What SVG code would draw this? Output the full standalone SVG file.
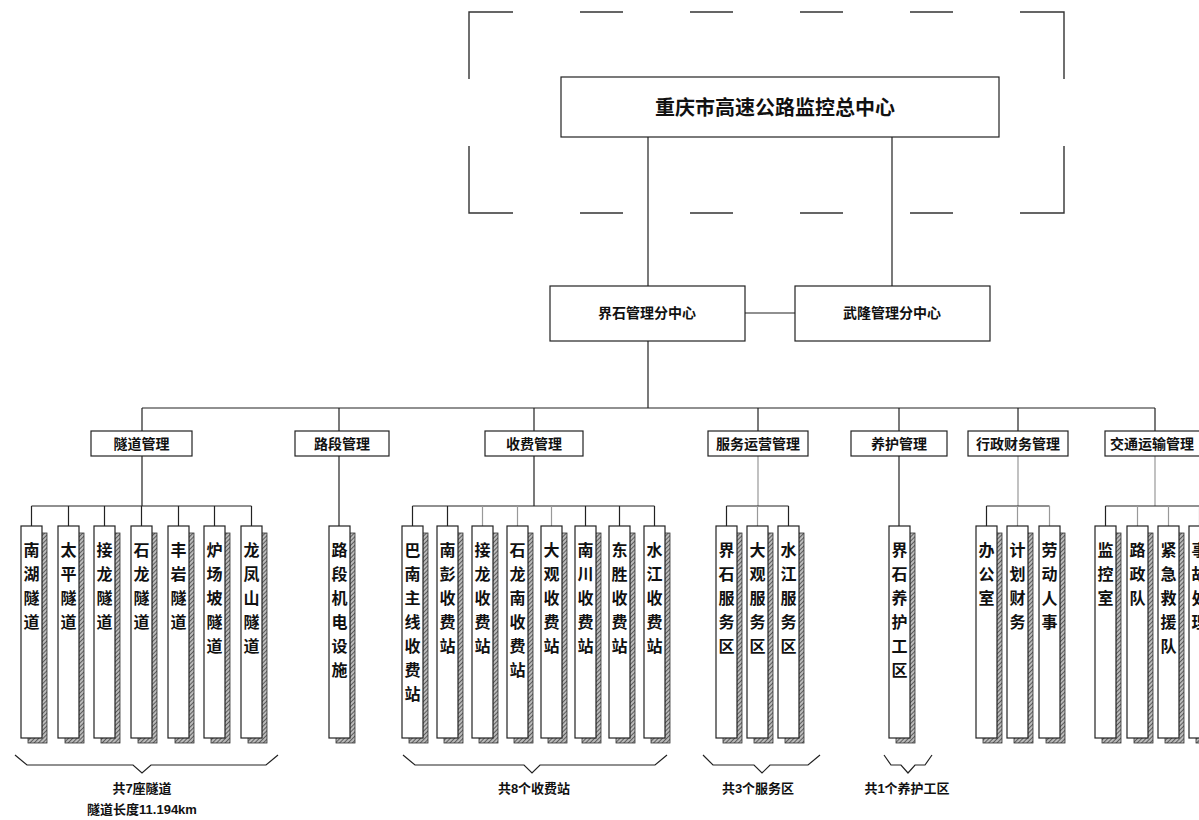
<svg xmlns="http://www.w3.org/2000/svg" width="1199" height="820" viewBox="0 0 1199 820">
<style>
  .box { fill: #fff; stroke: #222; stroke-width: 1.2; }
  .shadow { fill: url(#hatch); stroke: #333; stroke-width: 0.8; }
  .ln { stroke: #222; stroke-width: 1.2; fill: none; }
  .lg { stroke: #999; stroke-width: 1.2; fill: none; }
  .dash { stroke: #333; stroke-width: 1.4; fill: none; }
  .t { font-family: "Liberation Sans", "Noto Sans CJK SC", sans-serif; font-weight: bold; fill: #111; text-anchor: middle; }
  .title { font-size: 20px; }
  .mid { font-size: 14px; }
  .cat { font-size: 14px; }
  .v { font-size: 16px; }
  .note { font-size: 13px; }
</style>
<defs>
  <pattern id="hatch" patternUnits="userSpaceOnUse" width="3" height="3" patternTransform="rotate(45)">
    <rect width="3" height="3" fill="#bbb"/>
    <line x1="0" y1="0" x2="0" y2="3" stroke="#333" stroke-width="1.4"/>
  </pattern>
</defs>
<rect width="1199" height="820" fill="#fff"/>

<g id="dashed-frame">
  <path class="dash" d="M469,79 V12 H513 M580,12 H623 M690,12 H733 M800,12 H843 M910,12 H953 M1020,12 H1064 V79"/>
  <path class="dash" d="M469,146 V213 H513 M580,213 H623 M690,213 H733 M800,213 H843 M910,213 H953 M1020,213 H1064 V146"/>
</g>

<g id="connectors">
  <path class="ln" d="M648,137 V286 M892,137 V286 M745,313 H795 M648,341 V408 M142,408 H1155"/>
  <path class="ln" d="M142,408 V431 M339,408 V431 M534,408 V431 M758,408 V431 M899,408 V431 M1018,408 V431 M1155,408 V431"/>
  <path class="ln" d="M142,456 V506 M534,456 V506 M339,456 V526 M899,456 V526"/>
  <path class="lg" d="M758,456 V506 M1018,456 V506 M1155,456 V506"/>
  <path class="ln" d="M31.5,506 H251.5 M31.5,506 V526 M68.5,506 V526 M104.5,506 V526 M141.5,506 V526 M178.5,506 V526 M214.5,506 V526 M251.5,506 V526"/>
  <path class="ln" d="M412.5,506 H654.5 M412.5,506 V526 M447.5,506 V526 M585.5,506 V526 M619.5,506 V526 M654.5,506 V526"/>
  <path class="lg" d="M482.5,506 V526 M517.5,506 V526 M551.5,506 V526"/>
  <path class="ln" d="M726.5,506 H788.5 M726.5,506 V526 M788.5,506 V526"/>
  <path class="lg" d="M757.5,506 V526"/>
  <path class="ln" d="M986.5,506 H1049.5 M986.5,506 V526"/>
  <path class="lg" d="M1049.5,506 V526 M1017.5,506 V526"/>
  <path class="ln" d="M1105.5,506 H1199 M1105.5,506 V526"/>
  <path class="lg" d="M1137.5,506 V526 M1168.5,506 V526 M1199.5,506 V526"/>
</g>

<g id="brackets">
  <polyline class="ln" points="15,755 27,765 133,765 142,773 151,765 266,765 278,755"/>
  <polyline class="ln" points="403,755 415,765 524,765 532,773 540,765 655,765 667,755"/>
  <polyline class="ln" points="703,755 713,765 754,765 762,773 770,765 808,765 820,755"/>
  <polyline class="ln" points="884,755 891,765 901,765 908,773 915,765 925,765 932,755"/>
</g>

<g id="n-hq">
  <rect class="box" x="561" y="77" width="438" height="60"/>
  <text class="t title" x="775" y="115">重庆市高速公路监控总中心</text>
</g>
<g id="n-jieshi">
  <rect class="box" x="550" y="286" width="195" height="55"/>
  <text class="t mid" x="647" y="318">界石管理分中心</text>
</g>
<g id="n-wulong">
  <rect class="box" x="795" y="286" width="195" height="55"/>
  <text class="t mid" x="892" y="318">武隆管理分中心</text>
</g>

<g id="c-tunnel"><rect class="box" x="91" y="431" width="101" height="25"/><text class="t cat" x="141.5" y="449">隧道管理</text></g>
<g id="c-road"><rect class="box" x="295" y="431" width="94" height="25"/><text class="t cat" x="342" y="449">路段管理</text></g>
<g id="c-toll"><rect class="box" x="485" y="431" width="98" height="25"/><text class="t cat" x="534" y="449">收费管理</text></g>
<g id="c-service"><rect class="box" x="708" y="431" width="100" height="25"/><text class="t cat" x="758" y="449">服务运营管理</text></g>
<g id="c-maint"><rect class="box" x="851" y="431" width="96" height="25"/><text class="t cat" x="899" y="449">养护管理</text></g>
<g id="c-admin"><rect class="box" x="968" y="431" width="100" height="25"/><text class="t cat" x="1018" y="449">行政财务管理</text></g>
<g id="c-traffic"><rect class="box" x="1105" y="431" width="110" height="25"/><text class="t cat" x="1152" y="449">交通运输管理</text></g>

<!-- vertical unit boxes -->
<g id="u-nanhu"><rect class="shadow" x="28" y="533" width="19" height="210"/><rect class="box" x="21" y="526" width="21" height="212"/><text class="t v" x="31.5" y="556"><tspan x="31.5">南</tspan><tspan x="31.5" dy="24">湖</tspan><tspan x="31.5" dy="24">隧</tspan><tspan x="31.5" dy="24">道</tspan></text></g>
<g id="u-taiping"><rect class="shadow" x="65" y="533" width="19" height="210"/><rect class="box" x="58" y="526" width="21" height="212"/><text class="t v" x="68.5" y="556"><tspan x="68.5">太</tspan><tspan x="68.5" dy="24">平</tspan><tspan x="68.5" dy="24">隧</tspan><tspan x="68.5" dy="24">道</tspan></text></g>
<g id="u-jielong"><rect class="shadow" x="101" y="533" width="19" height="210"/><rect class="box" x="94" y="526" width="21" height="212"/><text class="t v" x="104.5" y="556"><tspan x="104.5">接</tspan><tspan x="104.5" dy="24">龙</tspan><tspan x="104.5" dy="24">隧</tspan><tspan x="104.5" dy="24">道</tspan></text></g>
<g id="u-shilong"><rect class="shadow" x="138" y="533" width="19" height="210"/><rect class="box" x="131" y="526" width="21" height="212"/><text class="t v" x="141.5" y="556"><tspan x="141.5">石</tspan><tspan x="141.5" dy="24">龙</tspan><tspan x="141.5" dy="24">隧</tspan><tspan x="141.5" dy="24">道</tspan></text></g>
<g id="u-fengyan"><rect class="shadow" x="175" y="533" width="19" height="210"/><rect class="box" x="168" y="526" width="21" height="212"/><text class="t v" x="178.5" y="556"><tspan x="178.5">丰</tspan><tspan x="178.5" dy="24">岩</tspan><tspan x="178.5" dy="24">隧</tspan><tspan x="178.5" dy="24">道</tspan></text></g>
<g id="u-luchangpo"><rect class="shadow" x="211" y="533" width="19" height="210"/><rect class="box" x="204" y="526" width="21" height="212"/><text class="t v" x="214.5" y="556"><tspan x="214.5">炉</tspan><tspan x="214.5" dy="24">场</tspan><tspan x="214.5" dy="24">坡</tspan><tspan x="214.5" dy="24">隧</tspan><tspan x="214.5" dy="24">道</tspan></text></g>
<g id="u-longfengshan"><rect class="shadow" x="248" y="533" width="19" height="210"/><rect class="box" x="241" y="526" width="21" height="212"/><text class="t v" x="251.5" y="556"><tspan x="251.5">龙</tspan><tspan x="251.5" dy="24">凤</tspan><tspan x="251.5" dy="24">山</tspan><tspan x="251.5" dy="24">隧</tspan><tspan x="251.5" dy="24">道</tspan></text></g>

<g id="u-road"><rect class="shadow" x="336" y="533" width="19" height="210"/><rect class="box" x="329" y="526" width="21" height="212"/><text class="t v" x="339.5" y="556"><tspan x="339.5">路</tspan><tspan x="339.5" dy="24">段</tspan><tspan x="339.5" dy="24">机</tspan><tspan x="339.5" dy="24">电</tspan><tspan x="339.5" dy="24">设</tspan><tspan x="339.5" dy="24">施</tspan></text></g>

<g id="u-banan"><rect class="shadow" x="409" y="533" width="19" height="210"/><rect class="box" x="402" y="526" width="21" height="212"/><text class="t v" x="412.5" y="556"><tspan x="412.5">巴</tspan><tspan x="412.5" dy="24">南</tspan><tspan x="412.5" dy="24">主</tspan><tspan x="412.5" dy="24">线</tspan><tspan x="412.5" dy="24">收</tspan><tspan x="412.5" dy="24">费</tspan><tspan x="412.5" dy="24">站</tspan></text></g>
<g id="u-nanpeng"><rect class="shadow" x="444" y="533" width="19" height="210"/><rect class="box" x="437" y="526" width="21" height="212"/><text class="t v" x="447.5" y="556"><tspan x="447.5">南</tspan><tspan x="447.5" dy="24">彭</tspan><tspan x="447.5" dy="24">收</tspan><tspan x="447.5" dy="24">费</tspan><tspan x="447.5" dy="24">站</tspan></text></g>
<g id="u-jielong-toll"><rect class="shadow" x="479" y="533" width="19" height="210"/><rect class="box" x="472" y="526" width="21" height="212"/><text class="t v" x="482.5" y="556"><tspan x="482.5">接</tspan><tspan x="482.5" dy="24">龙</tspan><tspan x="482.5" dy="24">收</tspan><tspan x="482.5" dy="24">费</tspan><tspan x="482.5" dy="24">站</tspan></text></g>
<g id="u-shilongnan"><rect class="shadow" x="514" y="533" width="19" height="210"/><rect class="box" x="507" y="526" width="21" height="212"/><text class="t v" x="517.5" y="556"><tspan x="517.5">石</tspan><tspan x="517.5" dy="24">龙</tspan><tspan x="517.5" dy="24">南</tspan><tspan x="517.5" dy="24">收</tspan><tspan x="517.5" dy="24">费</tspan><tspan x="517.5" dy="24">站</tspan></text></g>
<g id="u-daguan-toll"><rect class="shadow" x="548" y="533" width="19" height="210"/><rect class="box" x="541" y="526" width="21" height="212"/><text class="t v" x="551.5" y="556"><tspan x="551.5">大</tspan><tspan x="551.5" dy="24">观</tspan><tspan x="551.5" dy="24">收</tspan><tspan x="551.5" dy="24">费</tspan><tspan x="551.5" dy="24">站</tspan></text></g>
<g id="u-nanchuan"><rect class="shadow" x="582" y="533" width="19" height="210"/><rect class="box" x="575" y="526" width="21" height="212"/><text class="t v" x="585.5" y="556"><tspan x="585.5">南</tspan><tspan x="585.5" dy="24">川</tspan><tspan x="585.5" dy="24">收</tspan><tspan x="585.5" dy="24">费</tspan><tspan x="585.5" dy="24">站</tspan></text></g>
<g id="u-dongsheng"><rect class="shadow" x="616" y="533" width="19" height="210"/><rect class="box" x="609" y="526" width="21" height="212"/><text class="t v" x="619.5" y="556"><tspan x="619.5">东</tspan><tspan x="619.5" dy="24">胜</tspan><tspan x="619.5" dy="24">收</tspan><tspan x="619.5" dy="24">费</tspan><tspan x="619.5" dy="24">站</tspan></text></g>
<g id="u-shuijiang-toll"><rect class="shadow" x="651" y="533" width="19" height="210"/><rect class="box" x="644" y="526" width="21" height="212"/><text class="t v" x="654.5" y="556"><tspan x="654.5">水</tspan><tspan x="654.5" dy="24">江</tspan><tspan x="654.5" dy="24">收</tspan><tspan x="654.5" dy="24">费</tspan><tspan x="654.5" dy="24">站</tspan></text></g>

<g id="u-jieshi-svc"><rect class="shadow" x="723" y="533" width="19" height="210"/><rect class="box" x="716" y="526" width="21" height="212"/><text class="t v" x="726.5" y="556"><tspan x="726.5">界</tspan><tspan x="726.5" dy="24">石</tspan><tspan x="726.5" dy="24">服</tspan><tspan x="726.5" dy="24">务</tspan><tspan x="726.5" dy="24">区</tspan></text></g>
<g id="u-daguan-svc"><rect class="shadow" x="754" y="533" width="19" height="210"/><rect class="box" x="747" y="526" width="21" height="212"/><text class="t v" x="757.5" y="556"><tspan x="757.5">大</tspan><tspan x="757.5" dy="24">观</tspan><tspan x="757.5" dy="24">服</tspan><tspan x="757.5" dy="24">务</tspan><tspan x="757.5" dy="24">区</tspan></text></g>
<g id="u-shuijiang-svc"><rect class="shadow" x="785" y="533" width="19" height="210"/><rect class="box" x="778" y="526" width="21" height="212"/><text class="t v" x="788.5" y="556"><tspan x="788.5">水</tspan><tspan x="788.5" dy="24">江</tspan><tspan x="788.5" dy="24">服</tspan><tspan x="788.5" dy="24">务</tspan><tspan x="788.5" dy="24">区</tspan></text></g>

<g id="u-maint"><rect class="shadow" x="896" y="533" width="19" height="210"/><rect class="box" x="889" y="526" width="21" height="212"/><text class="t v" x="899.5" y="556"><tspan x="899.5">界</tspan><tspan x="899.5" dy="24">石</tspan><tspan x="899.5" dy="24">养</tspan><tspan x="899.5" dy="24">护</tspan><tspan x="899.5" dy="24">工</tspan><tspan x="899.5" dy="24">区</tspan></text></g>

<g id="u-office"><rect class="shadow" x="983" y="533" width="19" height="210"/><rect class="box" x="976" y="526" width="21" height="212"/><text class="t v" x="986.5" y="556"><tspan x="986.5">办</tspan><tspan x="986.5" dy="24">公</tspan><tspan x="986.5" dy="24">室</tspan></text></g>
<g id="u-finance"><rect class="shadow" x="1014" y="533" width="19" height="210"/><rect class="box" x="1007" y="526" width="21" height="212"/><text class="t v" x="1017.5" y="556"><tspan x="1017.5">计</tspan><tspan x="1017.5" dy="24">划</tspan><tspan x="1017.5" dy="24">财</tspan><tspan x="1017.5" dy="24">务</tspan></text></g>
<g id="u-hr"><rect class="shadow" x="1046" y="533" width="19" height="210"/><rect class="box" x="1039" y="526" width="21" height="212"/><text class="t v" x="1049.5" y="556"><tspan x="1049.5">劳</tspan><tspan x="1049.5" dy="24">动</tspan><tspan x="1049.5" dy="24">人</tspan><tspan x="1049.5" dy="24">事</tspan></text></g>

<g id="u-monitor"><rect class="shadow" x="1102" y="533" width="19" height="210"/><rect class="box" x="1095" y="526" width="21" height="212"/><text class="t v" x="1105.5" y="556"><tspan x="1105.5">监</tspan><tspan x="1105.5" dy="24">控</tspan><tspan x="1105.5" dy="24">室</tspan></text></g>
<g id="u-roadadmin"><rect class="shadow" x="1134" y="533" width="19" height="210"/><rect class="box" x="1127" y="526" width="21" height="212"/><text class="t v" x="1137.5" y="556"><tspan x="1137.5">路</tspan><tspan x="1137.5" dy="24">政</tspan><tspan x="1137.5" dy="24">队</tspan></text></g>
<g id="u-rescue"><rect class="shadow" x="1165" y="533" width="19" height="210"/><rect class="box" x="1158" y="526" width="21" height="212"/><text class="t v" x="1168.5" y="556"><tspan x="1168.5">紧</tspan><tspan x="1168.5" dy="24">急</tspan><tspan x="1168.5" dy="24">救</tspan><tspan x="1168.5" dy="24">援</tspan><tspan x="1168.5" dy="24">队</tspan></text></g>
<g id="u-accident"><rect class="shadow" x="1196" y="533" width="19" height="210"/><rect class="box" x="1189" y="526" width="21" height="212"/><text class="t v" x="1199.5" y="556"><tspan x="1199.5">事</tspan><tspan x="1199.5" dy="24">故</tspan><tspan x="1199.5" dy="24">处</tspan><tspan x="1199.5" dy="24">理</tspan></text></g>

<g id="notes">
  <text class="t note" x="142" y="793">共7座隧道</text>
  <text class="t note" x="142" y="814">隧道长度11.194km</text>
  <text class="t note" x="534" y="793">共8个收费站</text>
  <text class="t note" x="758" y="793">共3个服务区</text>
  <text class="t note" x="907" y="793">共1个养护工区</text>
</g>
</svg>
